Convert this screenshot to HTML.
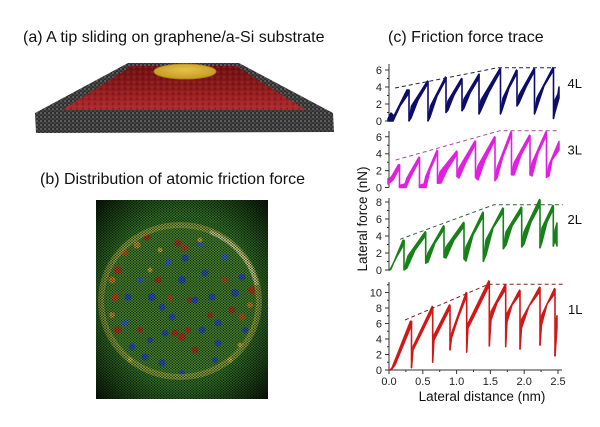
<!DOCTYPE html>
<html><head><meta charset="utf-8"><style>
html,body{margin:0;padding:0;background:#fff;}
svg{display:block;font-family:"Liberation Sans",Arial,sans-serif;}
</style></head><body>
<svg width="600" height="427" viewBox="0 0 600 427" xmlns="http://www.w3.org/2000/svg">
<defs>
<pattern id="grain" width="4" height="4" patternUnits="userSpaceOnUse">
<rect width="4" height="4" fill="#2e2e2e"/>
<circle cx="1" cy="1" r="1.3" fill="#5a5a5a"/>
<circle cx="3" cy="3" r="1.2" fill="#444"/>
<circle cx="3" cy="1" r="0.6" fill="#1c1c1c"/>
</pattern>
<linearGradient id="redg" x1="0" y1="0" x2="0" y2="1">
<stop offset="0" stop-color="#6a1010"/>
<stop offset="0.5" stop-color="#8c1a1c"/>
<stop offset="1" stop-color="#b02a30"/>
</linearGradient>
<pattern id="redtex" width="6" height="5" patternUnits="userSpaceOnUse">
<circle cx="2" cy="2" r="1.5" fill="#c04040" opacity="0.25"/>
<circle cx="5" cy="4" r="1.2" fill="#500808" opacity="0.3"/>
</pattern>
<pattern id="hex" width="3" height="2.6" patternUnits="userSpaceOnUse">
<circle cx="1.5" cy="0.65" r="0.75" fill="#050c05" opacity="0.8"/>
<circle cx="0" cy="1.95" r="0.75" fill="#050c05" opacity="0.8"/>
<circle cx="3" cy="1.95" r="0.75" fill="#050c05" opacity="0.8"/>
</pattern>
<radialGradient id="vig" cx="0.5" cy="0.5" r="0.72">
<stop offset="0.6" stop-color="#000" stop-opacity="0"/>
<stop offset="1" stop-color="#000" stop-opacity="0.85"/>
</radialGradient>
<radialGradient id="gold" cx="0.5" cy="0.4" r="0.6">
<stop offset="0" stop-color="#e6c24a"/>
<stop offset="1" stop-color="#c49a22"/>
</radialGradient>
</defs>

<!-- titles -->
<text x="23" y="42" font-size="16" fill="#111">(a) A tip sliding on graphene/a-Si substrate</text>
<text x="40" y="184" font-size="16" fill="#111">(b) Distribution of atomic friction force</text>
<text x="388" y="42" font-size="16" fill="#111">(c) Friction force trace</text>

<!-- slab -->
<polygon points="128,63 239,63 333,113 334,132 36,133 35,113" fill="url(#grain)"/>
<polygon points="132,66 236,66 306,110 62,110" fill="url(#redg)"/>
<polygon points="132,66 236,66 306,110 62,110" fill="url(#redtex)"/>
<ellipse cx="185" cy="71.5" rx="31" ry="7.5" fill="url(#gold)" stroke="#a8821c" stroke-width="0.8"/>

<!-- (b) image -->
<g>
<rect x="96" y="200" width="172" height="199" fill="#347a28"/>
<ellipse cx="180" cy="301" rx="78" ry="75" fill="#4a8c30"/>
<g opacity="0.95">
<circle cx="118" cy="270" r="4" fill="#c8401c"/>
<circle cx="115" cy="297" r="4" fill="#d05020"/>
<circle cx="112" cy="280" r="3.5" fill="#e08a20"/>
<circle cx="118" cy="330" r="4" fill="#c04020"/>
<circle cx="112" cy="315" r="3" fill="#e09a30"/>
<circle cx="125" cy="253" r="3.5" fill="#d06020"/>
<circle cx="147" cy="237" r="3.5" fill="#c03a20"/>
<circle cx="137" cy="245" r="3.5" fill="#e0a030"/>
<circle cx="175" cy="333" r="3.5" fill="#c03a20"/>
<circle cx="182" cy="337" r="4" fill="#c83a1c"/>
<circle cx="188" cy="330" r="3" fill="#c83a1c"/>
<circle cx="178" cy="243" r="3.5" fill="#c03a20"/>
<circle cx="185" cy="248" r="3.5" fill="#d04828"/>
<circle cx="158" cy="280" r="3.5" fill="#c03a20"/>
<circle cx="232" cy="310" r="3.5" fill="#c03a20"/>
<circle cx="242" cy="317" r="3.5" fill="#d06020"/>
<circle cx="252" cy="290" r="4" fill="#c84020"/>
<circle cx="250" cy="305" r="3" fill="#e08a20"/>
<circle cx="195" cy="350" r="3.5" fill="#c03a20"/>
<circle cx="190" cy="300" r="3" fill="#c03a20"/>
<circle cx="170" cy="298" r="3" fill="#d05020"/>
<circle cx="210" cy="315" r="3" fill="#c03a20"/>
<circle cx="140" cy="330" r="3" fill="#c03a20"/>
<circle cx="225" cy="280" r="3" fill="#d05020"/>
<circle cx="182" cy="280" r="4" fill="#2a58d0"/>
<circle cx="185" cy="258" r="3.5" fill="#2a58d0"/>
<circle cx="168" cy="262" r="3.5" fill="#3a70e0"/>
<circle cx="152" cy="297" r="4" fill="#2a58d0"/>
<circle cx="162" cy="307" r="3.5" fill="#2a58d0"/>
<circle cx="128" cy="297" r="3.5" fill="#2a58d0"/>
<circle cx="125" cy="323" r="3.5" fill="#3a70e0"/>
<circle cx="132" cy="347" r="3.5" fill="#2a58d0"/>
<circle cx="145" cy="357" r="3.5" fill="#2a58d0"/>
<circle cx="162" cy="363" r="3.5" fill="#2a58d0"/>
<circle cx="182" cy="373" r="3" fill="#2a58d0"/>
<circle cx="218" cy="343" r="3.5" fill="#2a58d0"/>
<circle cx="235" cy="293" r="4" fill="#2a58d0"/>
<circle cx="225" cy="257" r="3.5" fill="#3a70e0"/>
<circle cx="212" cy="297" r="3.5" fill="#2a58d0"/>
<circle cx="195" cy="300" r="3.5" fill="#2a58d0"/>
<circle cx="172" cy="317" r="3.5" fill="#2a58d0"/>
<circle cx="218" cy="323" r="3.5" fill="#2a58d0"/>
<circle cx="242" cy="277" r="3.5" fill="#2a58d0"/>
<circle cx="205" cy="273" r="3.5" fill="#2a58d0"/>
<circle cx="165" cy="333" r="3.5" fill="#2a58d0"/>
<circle cx="202" cy="330" r="3.5" fill="#2a58d0"/>
<circle cx="140" cy="280" r="3" fill="#3a70e0"/>
<circle cx="200" cy="245" r="3" fill="#3a70e0"/>
<circle cx="245" cy="330" r="3" fill="#2a58d0"/>
<circle cx="150" cy="340" r="3" fill="#2a58d0"/>
<circle cx="215" cy="360" r="3" fill="#2a58d0"/>
<circle cx="150" cy="270" r="2.5" fill="#e0c030"/>
<circle cx="200" cy="240" r="2.5" fill="#e0c030"/>
<circle cx="230" cy="360" r="2.5" fill="#e0c030"/>
<circle cx="160" cy="250" r="2.5" fill="#e0c030"/>
<circle cx="240" cy="345" r="2.5" fill="#e0c030"/>
<circle cx="130" cy="360" r="2.5" fill="#e0c030"/>
</g>
<ellipse cx="180" cy="301" rx="79" ry="76" fill="none" stroke="#d8d050" stroke-width="6" opacity="0.55"/>
<path d="M210,232 A79,76 0 0 1 257,285" fill="none" stroke="#f0f0b8" stroke-width="4" opacity="0.7"/>
<rect x="96" y="200" width="172" height="199" fill="url(#hex)"/>
<rect x="96" y="200" width="172" height="199" fill="url(#vig)"/>
</g>

<!-- axes -->
<g stroke="#333" stroke-width="1" fill="none">
<path d="M389,64V121 M385,121H389 M385,104H389 M385,87H389 M385,70H389 M387,112.5H389 M387,95.5H389 M387,78.5H389"/>
<path d="M389,131V187.5 M385,187.5H389 M385,170.6H389 M385,153.7H389 M385,136.8H389 M387,179H389 M387,162.2H389 M387,145.3H389"/>
<path d="M389,198V270 M385,270H389 M385,253H389 M385,236H389 M385,219H389 M385,202H389 M387,261.5H389 M387,244.5H389 M387,227.5H389 M387,210.5H389"/>
<path d="M389,282V370 M385,370H389 M385,354.5H389 M385,339H389 M385,323.5H389 M385,308H389 M385,292.5H389 M387,362.25H389 M387,346.75H389 M387,331.25H389 M387,315.75H389 M387,300.25H389 M387,284.75H389"/>
<path d="M389,370H562 M389,370V374 M422.8,370V374 M456.6,370V374 M490.4,370V374 M524.2,370V374 M558,370V374 M405.9,370V372 M439.7,370V372 M473.5,370V372 M507.3,370V372 M541.1,370V372"/>
</g>
<g font-size="11" fill="#222" text-anchor="end">
<text x="382" y="125">0</text><text x="382" y="108">2</text><text x="382" y="91">4</text><text x="382" y="74">6</text>
<text x="382" y="191.5">0</text><text x="382" y="174.6">2</text><text x="382" y="157.7">4</text><text x="382" y="140.8">6</text>
<text x="382" y="274">0</text><text x="382" y="257">2</text><text x="382" y="240">4</text><text x="382" y="223">6</text><text x="382" y="206">8</text>
<text x="382" y="374">0</text><text x="382" y="358.5">2</text><text x="382" y="343">4</text><text x="382" y="327.5">6</text><text x="382" y="312">8</text><text x="382" y="296.5">10</text>
</g>
<g font-size="11" fill="#222" text-anchor="middle">
<text x="389" y="385">0.0</text><text x="422.8" y="385">0.5</text><text x="456.6" y="385">1.0</text><text x="490.4" y="385">1.5</text><text x="524.2" y="385">2.0</text><text x="558" y="385">2.5</text>
</g>
<text x="482" y="401" font-size="13.5" fill="#111" text-anchor="middle">Lateral distance (nm)</text>
<text transform="translate(367,219) rotate(-90)" font-size="13.5" fill="#111" text-anchor="middle">Lateral force (nN)</text>
<g font-size="13" fill="#111">
<text x="567.5" y="88">4L</text>
<text x="567.5" y="154.5">3L</text>
<text x="567.5" y="224">2L</text>
<text x="568" y="314">1L</text>
</g>

<!-- 4L -->
<g fill="#0c0c6a" stroke="#0c0c6a" stroke-width="1.5" stroke-linejoin="round">
<polygon points="388,119 391,113 394,116 407,90 409,90 409,93 400,106 393,121 388,121"/>
<polygon points="409,121 411.5,106 427.5,81 427.5,84 418,100 411,118"/>
<polygon points="428,121 430.5,106 445.5,77 445.5,80 437,96 430,117"/>
<polygon points="446,112.5 448,101 461.5,78.5 461.5,82 454,95 448,110"/>
<polygon points="462,110.8 464,99 479,74 479,78 470,93 464,108"/>
<polygon points="479,114 481,100 500,68.5 500,72 489,92 481,110"/>
<polygon points="500.5,114 503,98 516.5,70 516.5,74 509,88 502,110"/>
<polygon points="517,106 519,95 534,68.5 534,72 526,87 519,103"/>
<polygon points="534.5,114 537,98 553,67.5 553,71 544,86 536,110"/>
<polygon points="553.5,118.5 555,100 558,94 559,87 559,98 555,112"/>
<path fill="none" stroke-width="1.6" d="M409,90V121 M428,81V121 M446,77V112.5 M462,78.5V110.8 M479,74V114 M500.5,68.5V114 M517,70V106 M534.5,68.5V114 M553.5,67.5V118.5"/>
</g>
<path d="M395,88L498,67.7L556,67.7" fill="none" stroke="#22224a" stroke-width="1" stroke-dasharray="4,3"/>

<!-- 3L -->
<g fill="#e020e0" stroke="#e020e0" stroke-width="1.5" stroke-linejoin="round">
<polygon points="388,180.7 392,176 398.5,164.7 399.5,164.7 399.5,168 393,180 388,184"/>
<polygon points="399.5,185.5 405,184 407,178 419,157.1 419,161 410,178 406,187.5 399.5,187.5"/>
<polygon points="419.5,185.5 424,184 426,176 437,150.3 437,154 430,170 426,187.5 419.5,187.5"/>
<polygon points="437.5,183.3 440,172 456.5,151.2 456.5,155 447,170 441,183"/>
<polygon points="457,176.5 459,168 475,141 475,145 466,162 459,178"/>
<polygon points="475.5,177.4 478,166 494.5,136.8 494.5,141 485,160 478,180"/>
<polygon points="495,180.7 497,168 511,131.7 511,136 503,156 497,178"/>
<polygon points="511.5,174.8 514,163 529.5,135.1 529.5,139 521,155 514,175"/>
<polygon points="530,174.8 532,163 546,131.7 546,136 538,153 532,176"/>
<polygon points="546.5,177.4 549,165 559,141.5 559,150 552,160 549,176"/>
<path fill="none" stroke-width="1.6" d="M399.5,164.7V187.5 M419.5,157.1V187.5 M437.5,150.3V183.3 M457,151.2V176.5 M475.5,141V177.4 M495,136.8V180.7 M511.5,131.7V174.8 M530,135.1V174.8 M546.5,131.7V177.4"/>
</g>
<path d="M395.7,160L500,130.7L559,130.7" fill="none" stroke="#a848a8" stroke-width="1" stroke-dasharray="4,3"/>

<!-- 2L -->
<g fill="#188018" stroke="#188018" stroke-width="1.5" stroke-linejoin="round">
<polygon points="388.3,270 391,269 403,240.25 404,240.25 404,244 396,258 390,270"/>
<polygon points="404,270 406,263 408,256 425.2,231.75 425.2,236 415,250 407,268"/>
<polygon points="425.7,263.2 428,253 443.5,225.8 443.5,230 435,243 428,262"/>
<polygon points="444,257.25 446,247 463.5,222.4 463.5,227 454,240 446,258"/>
<polygon points="464,259 466,247 482.8,212.2 482.8,217 473,235 466,261"/>
<polygon points="483.3,261.5 486,240 502.8,208 502.8,213 493,228 486,255"/>
<polygon points="503.3,248.8 506,232 521.2,207.1 521.2,212 512,226 506,245"/>
<polygon points="521.7,247 524,232 539.5,199.5 539.5,206 531,222 524,244"/>
<polygon points="540,247.9 542,228 552.8,205.4 552.8,210 547,222 542,242"/>
<polygon points="553.3,246.2 555,230 557,223 557,246 555,240"/>
<path fill="none" stroke-width="1.6" d="M404,240.25V270 M425.7,231.75V263.2 M444,225.8V257.25 M464,222.4V259 M483.3,212.2V261.5 M503.3,208V248.8 M521.7,207.1V247 M540,199.5V247.9 M553.3,205.4V246.2"/>
</g>
<path d="M400,239.3L494,204.7L562.7,204.7" fill="none" stroke="#3a5a3a" stroke-width="1" stroke-dasharray="4,3"/>

<!-- 1L -->
<g fill="#d01818" stroke="#d01818" stroke-width="1.5" stroke-linejoin="round">
<polygon points="390,370 392,368 410.5,321.2 411.5,321.2 411.5,325 395,365 391,370"/>
<polygon points="411.5,367.7 413,346.75 432.2,306.45 432.2,311 420,336 413,350"/>
<polygon points="432.7,362.25 434,335.1 449.5,304.9 449.5,309 441,326 434,340"/>
<polygon points="450,349.85 451.5,333.6 466.2,292.5 466.2,297 458,318 451.5,338"/>
<polygon points="466.7,352.2 468,323.5 488.8,280.9 488.8,286 477,310 468,328"/>
<polygon points="489.3,346 491,311.9 505.2,284.75 505.2,290 497,303 491,320"/>
<polygon points="505.7,346.75 507,313.4 519.5,290.2 519.5,295 512,305 507,322"/>
<polygon points="520,349.1 521.5,319.6 539.5,287.1 539.5,292 529,306 521.5,328"/>
<polygon points="540,345.2 541.5,315.75 554.5,288.6 554.5,294 547,304 541.5,325"/>
<polygon points="555,356 556,320 557,315.75 557,328"/>
<path fill="none" stroke-width="1.6" d="M411.5,321.2V367.7 M432.7,306.45V362.25 M450,304.9V349.85 M466.7,292.5V352.2 M489.3,280.9V346 M505.7,284.75V346.75 M520,290.2V349.1 M540,287.1V345.2 M555,288.6V356"/>
</g>
<path d="M405,320L488.3,284.3L562.7,284.3" fill="none" stroke="#802020" stroke-width="1" stroke-dasharray="4,3"/>
</svg>
</body></html>
